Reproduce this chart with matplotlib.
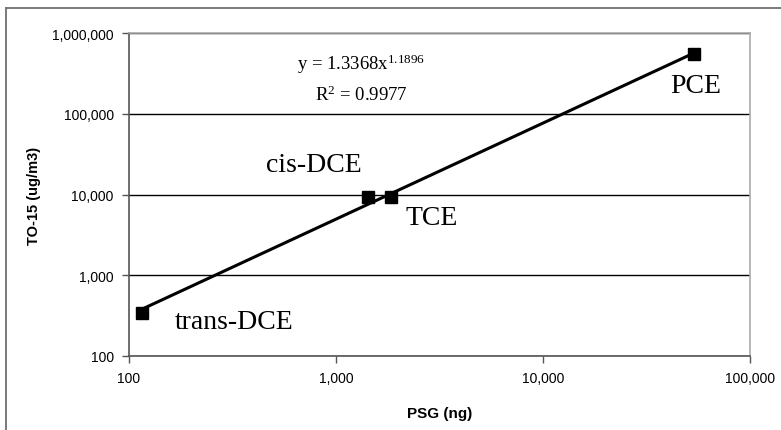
import numpy as np
import matplotlib.pyplot as plt
from matplotlib.lines import Line2D
from matplotlib.ticker import FixedLocator, FuncFormatter, NullLocator

# data
compounds = ['trans-DCE', 'cis-DCE', 'TCE', 'PCE']
psg_ng = [115.6, 1428, 1844, 53560]
to15_ugm3 = [340, 9300, 9300, 550000]

# power-law fit shown on the chart
fit_a = 1.3368
fit_b = 1.1896
fit_r2 = 0.9977

x_ticks = [100, 1000, 10000, 100000]
y_ticks = [100, 1000, 10000, 100000, 1000000]


def main():
    plt.rcParams['mathtext.fontset'] = 'custom'
    plt.rcParams['mathtext.rm'] = 'Liberation Serif'
    plt.rcParams['mathtext.it'] = 'Liberation Serif:italic'

    W, H = 781, 431
    fig = plt.figure(figsize=(W / 100, H / 100), dpi=100)
    ax = fig.add_axes([129 / W, 1 - 357 / H, (750 - 129) / W, (357 - 34) / H])

    # outer frame (top and left edges)
    fig.add_artist(Line2D([6 / W, 1.0], [1 - 9 / H, 1 - 9 / H], color='#707070', lw=1.3,
                          transform=fig.transFigure))
    fig.add_artist(Line2D([6 / W, 6 / W], [0, 1 - 9 / H], color='#707070', lw=1.3,
                          transform=fig.transFigure))

    ax.set_xscale('log')
    ax.set_yscale('log')
    ax.set_xlim(100, 100000)
    ax.set_ylim(100, 1000000)

    # trendline
    xf = np.geomspace(min(psg_ng), max(psg_ng), 200)
    ax.plot(xf, fit_a * xf ** fit_b, color='black', lw=2.2, zorder=3)
    ax.plot(psg_ng, to15_ugm3, linestyle='none', marker='s', markersize=8,
            color='black', zorder=4)

    ax.yaxis.grid(True, which='major', color='black', lw=1.0)
    ax.set_axisbelow(True)

    serif = 'Liberation Serif'
    offsets = {
        'trans-DCE': (33, -8),
        'cis-DCE': (-102, 33),
        'TCE': (14, -20),
        'PCE': (-24, -32),
    }
    for name, x, y in zip(compounds, psg_ng, to15_ugm3):
        dx, dy = offsets[name]
        ax.annotate(name, (x, y), xytext=(dx, dy), textcoords='offset pixels',
                    ha='left', va='center', fontsize=20, family=serif)

    ax.text(0.374, 0.905, r'y = 1.3368x$^{\mathrm{1.1896}}$', transform=ax.transAxes,
            ha='center', va='center', fontsize=13.5, family=serif)
    ax.text(0.374, 0.81, r'R$^{\mathrm{2}}$ = 0.9977', transform=ax.transAxes,
            ha='center', va='center', fontsize=13.5, family=serif)

    fmt = FuncFormatter(lambda v, p: f'{v:,.0f}')
    ax.xaxis.set_major_locator(FixedLocator(x_ticks))
    ax.yaxis.set_major_locator(FixedLocator(y_ticks))
    ax.xaxis.set_minor_locator(NullLocator())
    ax.yaxis.set_minor_locator(NullLocator())
    ax.xaxis.set_major_formatter(fmt)
    ax.yaxis.set_major_formatter(fmt)
    ax.tick_params(axis='both', direction='out', length=5, width=1, color='#555555',
                   labelsize=10, pad=6)
    for lab in ax.get_xticklabels() + ax.get_yticklabels():
        lab.set_family('Liberation Sans')

    for side in ['left', 'bottom']:
        ax.spines[side].set_color('#555555')
        ax.spines[side].set_linewidth(1.2)
    for side in ['top', 'right']:
        ax.spines[side].set_color('#aaaaaa')
        ax.spines[side].set_linewidth(1.2)

    ax.set_xlabel('PSG (ng)', fontsize=11, fontweight='bold', family='Liberation Sans')
    ax.set_ylabel('TO-15 (ug/m3)', fontsize=10.5, fontweight='bold', family='Liberation Sans')
    ax.xaxis.set_label_coords(0.5, -0.155)
    ax.yaxis.set_label_coords(-0.142, 0.5)

    fig.savefig('out.png', dpi=100)


if __name__ == "__main__":
    main()
